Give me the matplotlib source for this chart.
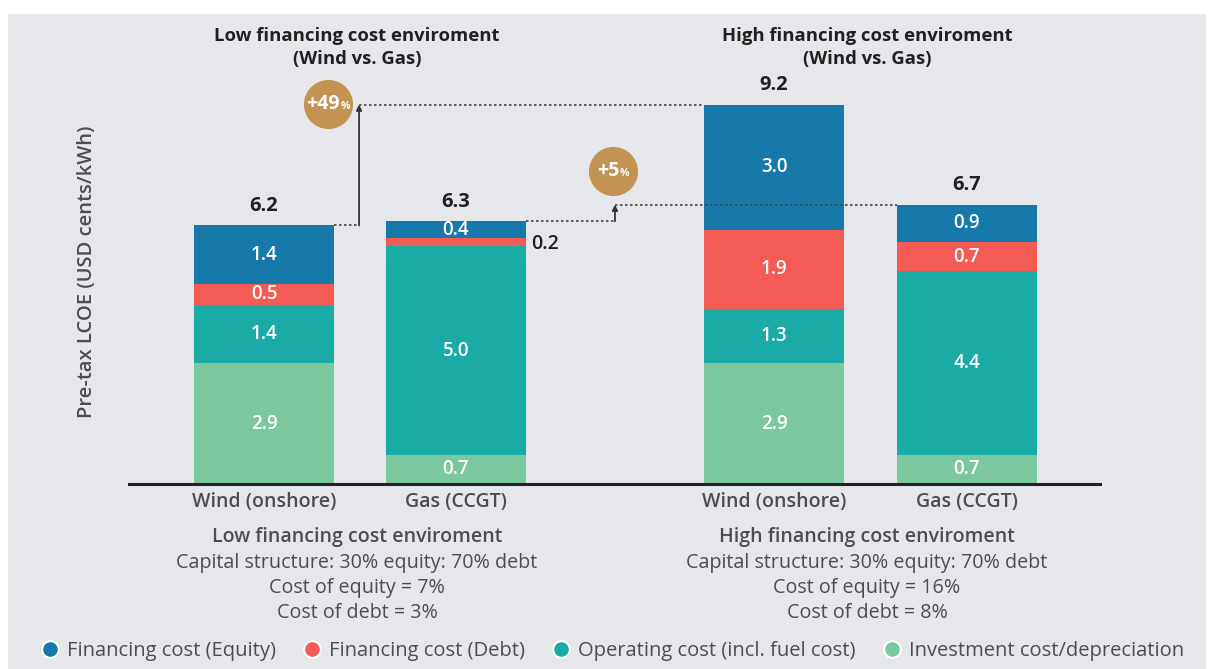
import matplotlib
matplotlib.use("Agg")
import matplotlib.pyplot as plt
from matplotlib.patches import Rectangle
from matplotlib.lines import Line2D
from matplotlib.offsetbox import TextArea, HPacker, AnnotationBbox
import numpy as np

plt.rcParams['font.family'] = ['Open Sans', 'DejaVu Sans']

# ---------------- data ----------------
categories = ["Wind (onshore)", "Gas (CCGT)", "Wind (onshore)", "Gas (CCGT)"]
series_names = ["Investment cost/depreciation", "Operating cost (incl. fuel cost)",
                "Financing cost (Debt)", "Financing cost (Equity)"]
investment = [2.9, 0.7, 2.9, 0.7]
operating = [1.4, 5.0, 1.3, 4.4]
debt = [0.5, 0.2, 1.9, 0.7]
equity = [1.4, 0.4, 3.0, 0.9]
totals = ["6.2", "6.3", "9.2", "6.7"]
badges = ["+49", "+5"]
group_titles = ["Low financing cost enviroment\n(Wind vs. Gas)",
                "High financing cost enviroment\n(Wind vs. Gas)"]
group_notes = [
    ["Low financing cost enviroment", "Capital structure: 30% equity: 70% debt",
     "Cost of equity = 7%", "Cost of debt = 3%"],
    ["High financing cost enviroment", "Capital structure: 30% equity: 70% debt",
     "Cost of equity = 16%", "Cost of debt = 8%"],
]
ylabel = "Pre-tax LCOE (USD cents/kWh)"

colors = {"Financing cost (Equity)": "#1778AA", "Financing cost (Debt)": "#F55B55",
          "Operating cost (incl. fuel cost)": "#1AABA7",
          "Investment cost/depreciation": "#7BC89E"}

# ---------------- layout ----------------
W, H = 1208, 669
fig = plt.figure(figsize=(W / 100, H / 100), dpi=100)
fig.patch.set_facecolor("white")
fig.patches.append(Rectangle((8 / W, 0), (1206 - 8) / W, (H - 14) / H,
                             transform=fig.transFigure, facecolor="#E6E7EB",
                             edgecolor="none", zorder=-10))

def fx(px):
    return px / W

def fy(py):
    return 1 - py / H

ax_l, ax_r, ax_b, ax_t = 129, 1100, 484, 14
ax = fig.add_axes([fx(ax_l), fy(ax_b), (ax_r - ax_l) / W, (ax_b - ax_t) / H])
ax.set_facecolor("none")
pxu_x = 140.0
pxu_y = 41.7
x0 = -(264 - ax_l) / pxu_x
ax.set_xlim(x0, x0 + (ax_r - ax_l) / pxu_x)
ax.set_ylim(0, (ax_b - ax_t) / pxu_y)
for s in ["top", "right", "left"]:
    ax.spines[s].set_visible(False)
ax.spines["bottom"].set_linewidth(2.2)
ax.spines["bottom"].set_color("#222222")
ax.set_xticks([])
ax.set_yticks([])

positions = np.array([0.0, 1.371, 3.643, 5.021])
width = 1.0

stack = [("Investment cost/depreciation", investment),
         ("Operating cost (incl. fuel cost)", operating),
         ("Financing cost (Debt)", debt),
         ("Financing cost (Equity)", equity)]
bottom = np.zeros(4)
for name, vals in stack:
    vals = np.array(vals)
    ax.bar(positions, vals, width, bottom=bottom, color=colors[name], zorder=2)
    for i, v in enumerate(vals):
        yc = bottom[i] + v / 2
        if v < 0.3:
            ax.text(positions[i] + width / 2 + 0.04, yc - 0.04, f"{v:.1f}",
                    ha="left", va="center", fontsize=14, color="#231F20",
                    fontweight="semibold", zorder=5)
        else:
            ax.text(positions[i], yc, f"{v:.1f}", ha="center", va="center",
                    fontsize=13.5, color="white", fontweight="semibold", zorder=5)
    bottom = bottom + vals

tops = bottom.copy()
for i, t in enumerate(totals):
    ax.text(positions[i], tops[i] + 0.46, t, ha="center", va="center",
            fontsize=14.5, color="#231F20", fontweight="bold")

# comparison lines
dot = dict(color="#444444", linestyle=(0, (1.5, 1.5)), linewidth=1.2, zorder=4)
pairs = [(0, 2, 0.679), (1, 3, 2.507)]
for a, b, xa in pairs:
    ax.plot([positions[a] + width / 2, xa], [tops[a], tops[a]], **dot)
    ax.plot([xa, positions[b] - width / 2], [tops[b], tops[b]], **dot)
    ax.annotate("", xy=(xa, tops[b]), xytext=(xa, tops[a]),
                arrowprops=dict(arrowstyle="-|>", color="#333333", lw=1.3,
                                mutation_scale=8, shrinkA=0, shrinkB=0))

badge_pos = [(0.457, 9.11), (2.493, 7.5)]
for (bx, by), txt in zip(badge_pos, badges):
    ax.scatter([bx], [by], s=1250, color="#C29352", zorder=6, linewidths=0)
    main = TextArea(txt, textprops=dict(fontsize=14, color="white",
                                        fontweight="bold"))
    pct = TextArea("%", textprops=dict(fontsize=7.5, color="white",
                                       fontweight="bold"))
    pack = HPacker(children=[main, pct], align="baseline", pad=0, sep=0.5)
    ab = AnnotationBbox(pack, (bx, by), frameon=False, box_alignment=(0.5, 0.5),
                        zorder=7)
    ax.add_artist(ab)

# category labels
for i, c in enumerate(categories):
    fig.text(fx(264 + positions[i] * pxu_x), fy(502), c, ha="center", va="center",
             fontsize=14, fontweight="semibold", color="#4D4D4F")

# group titles and notes
for g, cx in enumerate([357, 867]):
    fig.text(fx(cx), fy(36), group_titles[g].split("\n")[0], ha="center",
             va="center", fontsize=13.3, fontweight="bold", color="#231F20")
    fig.text(fx(cx), fy(59), group_titles[g].split("\n")[1], ha="center",
             va="center", fontsize=13.3, fontweight="bold", color="#231F20")
    for k, line in enumerate(group_notes[g]):
        yy = [537, 563, 588, 613][k]
        fig.text(fx(cx), fy(yy), line, ha="center", va="center",
                 fontsize=14 if k == 0 else 14.2,
                 fontweight="semibold" if k == 0 else "normal",
                 color="#4D4D4F")

fig.text(fx(87), fy(272), ylabel, rotation=90, ha="center", va="center",
         fontsize=14.5, fontweight="semibold", color="#4D4D4F")

# legend
legend_order = ["Financing cost (Equity)", "Financing cost (Debt)",
                "Operating cost (incl. fuel cost)", "Investment cost/depreciation"]
handles = [Line2D([], [], marker="o", linestyle="none", markersize=12,
                  markerfacecolor=colors[n], markeredgecolor="white",
                  markeredgewidth=1.5) for n in legend_order]
leg = fig.legend(handles, legend_order, loc="center", ncol=4,
                 bbox_to_anchor=(fx(612), fy(651)), frameon=False,
                 fontsize=14.5, handletextpad=0.35, columnspacing=1.3,
                 handlelength=1.0)
for t in leg.get_texts():
    t.set_color("#4D4D4F")

fig.savefig("out.png", dpi=100, facecolor=fig.get_facecolor())
